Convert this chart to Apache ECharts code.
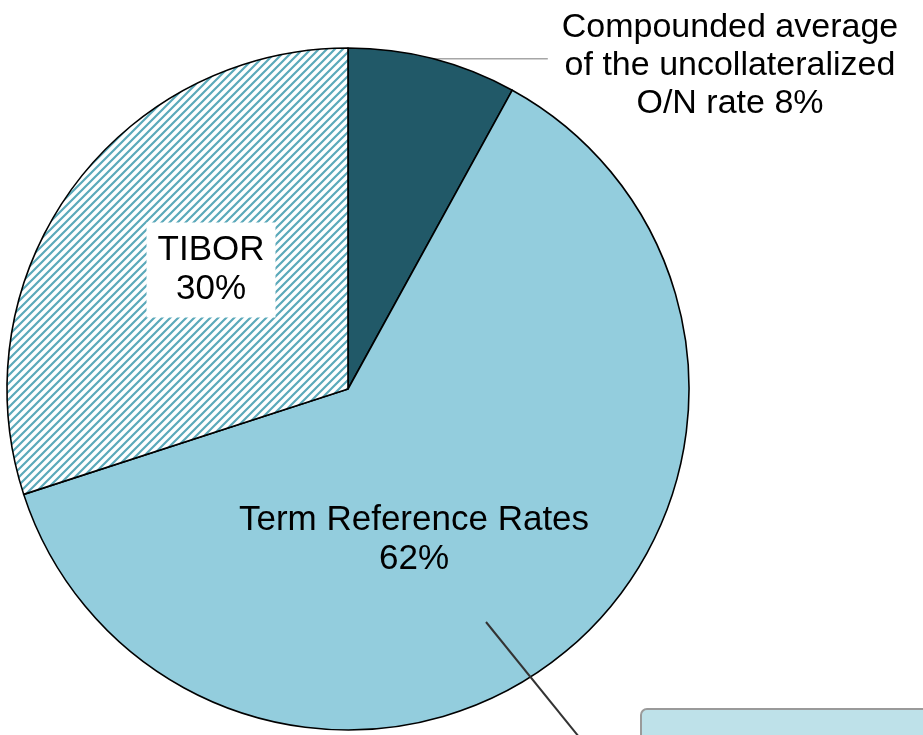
<!DOCTYPE html>
<html lang="en">
  <head>
    <meta charset="UTF-8" />
    <title>Reference rates</title>
    <script src="https://cdn.jsdelivr.net/npm/echarts@6/dist/echarts.min.js"></script>
    <style>
      html, body { margin: 0; padding: 0; background: #fff; }
    </style>
  </head>
  <body>
    <div id="main" style="width: 923px; height: 735px"></div>
    <script type="text/javascript">
      // chart data
      const names = [
        "Compounded average\nof the uncollateralized\nO/N rate",
        "Term Reference Rates",
        "TIBOR",
      ];
      const shares = [8, 62, 30];

      // diagonal hatch for the TIBOR slice
      const hatch = document.createElement("canvas");
      hatch.width = 8;
      hatch.height = 8;
      const hc = hatch.getContext("2d");
      hc.fillStyle = "#ffffff";
      hc.fillRect(0, 0, 8, 8);
      hc.strokeStyle = "#5ba9ba";
      hc.lineWidth = 2.2;
      hc.beginPath();
      hc.moveTo(-2, 10); hc.lineTo(10, -2);
      hc.moveTo(-6, 6); hc.lineTo(6, -6);
      hc.moveTo(2, 14); hc.lineTo(14, 2);
      hc.stroke();

      const colors = ["#215968", "#93cddd", { image: hatch, repeat: "repeat" }];

      // where each label sits (centre of text block)
      const labelPos = [
        { x: 730, y: 66 },
        { x: 414, y: 540 },
        { x: 211, y: 270 },
      ];

      const font = "Liberation Sans, Arial, sans-serif";

      let options = {
        animation: false,
        series: [
          {
            type: "pie",
            center: [348, 389],
            radius: 341,
            startAngle: 90,
            clockwise: true,
            avoidLabelOverlap: false,
            itemStyle: { borderColor: "#000", borderWidth: 1.6 },
            emphasis: { disabled: true },
            data: shares.map((v, i) => ({
              value: v,
              name: names[i],
              itemStyle: { color: colors[i] },
              label:
                i === 0
                  ? {
                      show: true,
                      position: "outside",
                      formatter: "{b} {c}%",
                      fontSize: 34,
                      lineHeight: 38,
                      align: "center",
                      color: "#000",
                      fontFamily: font,
                    }
                  : {
                      show: true,
                      position: "inside",
                      formatter: "{b}\n{c}%",
                      fontSize: 35,
                      lineHeight: 39,
                      align: "center",
                      color: "#000",
                      fontFamily: font,
                      backgroundColor: i === 2 ? "#fff" : "transparent",
                      padding: i === 2 ? [9, 11, 8, 11] : 0,
                    },
              labelLine:
                i === 0
                  ? { show: true, length: 0, length2: 115, lineStyle: { color: "#a6a6a6", width: 1.5 } }
                  : { show: false },
            })),
          },
        ],
        graphic: [
          // callout line and box at bottom right (cut off in the source)
          {
            type: "line",
            z: 100,
            shape: { x1: 486, y1: 622, x2: 579, y2: 737 },
            style: { stroke: "#333", lineWidth: 2 },
          },
          {
            type: "rect",
            z: 100,
            shape: { x: 641, y: 709, width: 320, height: 60, r: 6 },
            style: { fill: "#bee1e9", stroke: "#9a9a9a", lineWidth: 2 },
          },
        ],
      };

      options.series[0].labelLayout = function (params) {
        const p = labelPos[params.dataIndex];
        const out = { x: p.x, y: p.y, align: "center", verticalAlign: "middle" };
        if (params.dataIndex === 0 && params.labelLinePoints) {
          out.labelLinePoints = params.labelLinePoints;
        }
        return out;
      };

      let myChart = echarts.init(document.getElementById("main"));
      myChart.setOption(options);
    </script>
  </body>
</html>
